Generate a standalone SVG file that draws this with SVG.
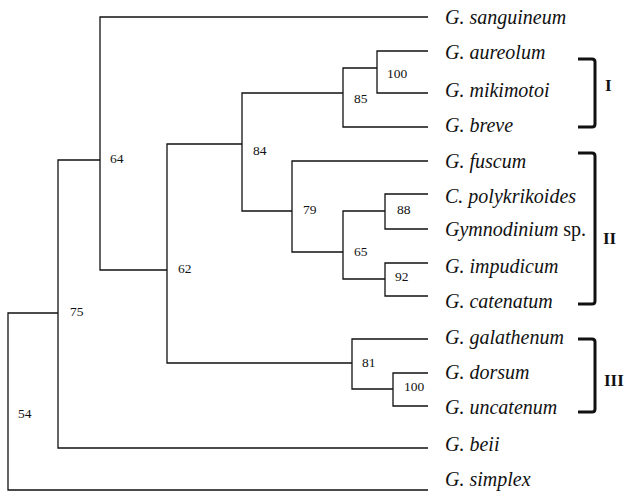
<svg xmlns="http://www.w3.org/2000/svg" width="624" height="492" viewBox="0 0 624 492">
<style>
.e{fill:none;stroke:#111;stroke-width:1.3}
.br{fill:none;stroke:#111;stroke-width:3;stroke-linejoin:round}
.t{font-family:"Liberation Serif","Times New Roman",serif;font-size:20px;font-style:italic;fill:#111}
.r{font-style:normal}
.b{font-family:"Liberation Serif","Times New Roman",serif;font-size:13.5px;fill:#111}
.c{font-family:"Liberation Serif","Times New Roman",serif;font-size:17px;font-weight:bold;fill:#111}
</style>
<rect width="624" height="492" fill="#fff"/>
<g id="connectors">
<path class="e" d="M8,401 V313 H58"/>
<path class="e" d="M8,401 V490 H428"/>
<path class="e" d="M58,313 V160 H100"/>
<path class="e" d="M58,313 V448 H428"/>
<path class="e" d="M100,160 V17 H428"/>
<path class="e" d="M100,160 V270 H167"/>
<path class="e" d="M167,270 V144 H242"/>
<path class="e" d="M167,270 V363 H352"/>
<path class="e" d="M242,144 V93 H343"/>
<path class="e" d="M242,144 V211 H292"/>
<path class="e" d="M343,93 V68 H377"/>
<path class="e" d="M343,93 V127 H428"/>
<path class="e" d="M377,68 V51 H428"/>
<path class="e" d="M377,68 V93 H428"/>
<path class="e" d="M292,211 V161 H428"/>
<path class="e" d="M292,211 V252 H343"/>
<path class="e" d="M343,252 V211 H385"/>
<path class="e" d="M343,252 V279 H385"/>
<path class="e" d="M385,211 V194 H428"/>
<path class="e" d="M385,211 V229 H428"/>
<path class="e" d="M385,279 V263 H428"/>
<path class="e" d="M385,279 V296 H428"/>
<path class="e" d="M352,363 V339 H428"/>
<path class="e" d="M352,363 V389 H393"/>
<path class="e" d="M393,389 V373 H428"/>
<path class="e" d="M393,389 V406 H428"/>
</g>
<g id="n54"><text class="b" x="18" y="418">54</text></g>
<g id="n75"><text class="b" x="70" y="316">75</text></g>
<g id="n64"><text class="b" x="110" y="163">64</text></g>
<g id="n62"><text class="b" x="178" y="273">62</text></g>
<g id="n84"><text class="b" x="253" y="155">84</text></g>
<g id="n85"><text class="b" x="354" y="103">85</text></g>
<g id="n100a"><text class="b" x="387" y="78">100</text></g>
<g id="n79"><text class="b" x="303" y="214">79</text></g>
<g id="n65"><text class="b" x="354" y="256">65</text></g>
<g id="n88"><text class="b" x="397" y="214">88</text></g>
<g id="n92"><text class="b" x="395" y="281">92</text></g>
<g id="n81"><text class="b" x="362" y="367">81</text></g>
<g id="n100b"><text class="b" x="404" y="391">100</text></g>
<g id="sanguineum"><text class="t" x="445" y="24">G. sanguineum</text></g>
<g id="aureolum"><text class="t" x="445" y="59">G. aureolum</text></g>
<g id="mikimotoi"><text class="t" x="445" y="97">G. mikimotoi</text></g>
<g id="breve"><text class="t" x="445" y="132">G. breve</text></g>
<g id="fuscum"><text class="t" x="445" y="168">G. fuscum</text></g>
<g id="polykrikoides"><text class="t" x="445" y="203">C. polykrikoides</text></g>
<g id="gymnodinium"><text class="t" x="445" y="236">Gymnodinium<tspan class="r"> sp.</tspan></text></g>
<g id="impudicum"><text class="t" x="445" y="273">G. impudicum</text></g>
<g id="catenatum"><text class="t" x="445" y="308">G. catenatum</text></g>
<g id="galathenum"><text class="t" x="445" y="344">G. galathenum</text></g>
<g id="dorsum"><text class="t" x="445" y="379">G. dorsum</text></g>
<g id="uncatenum"><text class="t" x="445" y="414">G. uncatenum</text></g>
<g id="beii"><text class="t" x="445" y="451">G. beii</text></g>
<g id="simplex"><text class="t" x="445" y="486">G. simplex</text></g>
<g id="cladeI"><path class="br" d="M578,59 H592 Q595,59 595,62 V124 Q595,127 592,127 H578"/><text class="c" x="605" y="91">I</text></g>
<g id="cladeII"><path class="br" d="M578,153 H592 Q595,153 595,156 V301 Q595,304 592,304 H578"/><text class="c" x="603" y="244">II</text></g>
<g id="cladeIII"><path class="br" d="M578,339 H592 Q595,339 595,342 V409 Q595,412 592,412 H578"/><text class="c" x="604" y="386">III</text></g>
</svg>
